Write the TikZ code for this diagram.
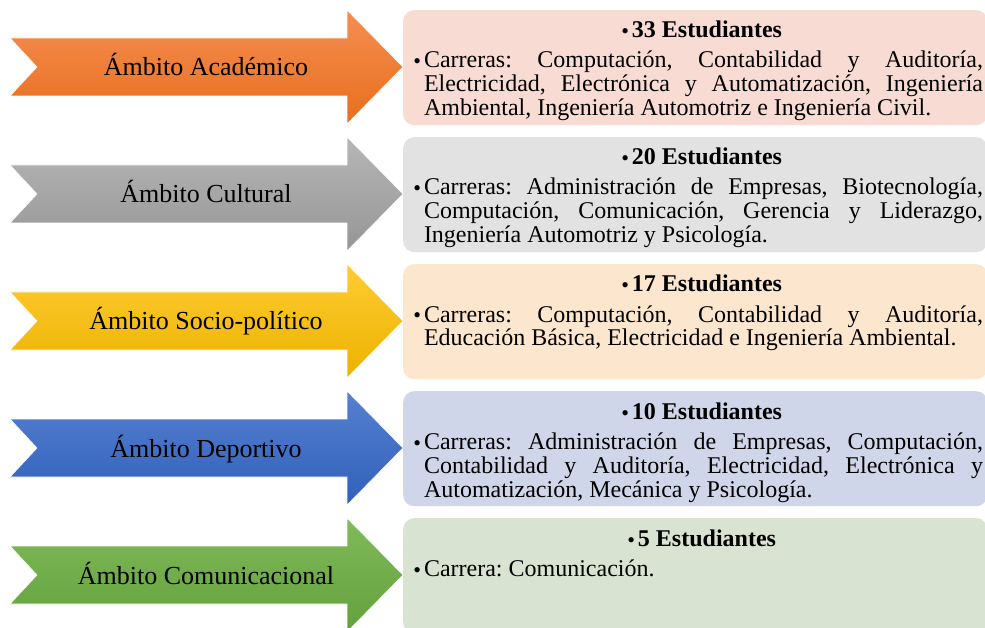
\documentclass[tikz,border=0pt]{standalone}
\usepackage{fontspec}
\setmainfont{Liberation Serif}
\frenchspacing
\definecolor{orT}{RGB}{245,142,82}
\definecolor{orB}{RGB}{232,110,28}
\definecolor{grT}{RGB}{182,182,182}
\definecolor{grB}{RGB}{150,150,150}
\definecolor{yeT}{RGB}{255,204,50}
\definecolor{yeB}{RGB}{236,178,0}
\definecolor{blT}{RGB}{86,128,208}
\definecolor{blB}{RGB}{48,96,186}
\definecolor{gnT}{RGB}{128,186,90}
\definecolor{gnB}{RGB}{100,160,60}
\definecolor{orL}{RGB}{248,220,212}
\definecolor{grL}{RGB}{226,226,226}
\definecolor{yeL}{RGB}{253,230,206}
\definecolor{blL}{RGB}{208,214,234}
\definecolor{gnL}{RGB}{216,227,209}
\newcommand\ambfont{\fontsize{26}{26}\selectfont}
\newcommand\bodyfont{\fontsize{24}{24}\selectfont\frenchspacing}
\newcommand\headfont{\fontsize{24}{24}\selectfont\bfseries}
\newcommand\bulfont{\fontsize{22}{22}\selectfont}
\tikzset{
  arrowshape/.style={draw=white, line width=0.6pt},
  infobox/.style={rounded corners=11pt, draw=none, minimum width=584pt, minimum height=115pt, anchor=north west, inner sep=0pt},
  txt/.style={inner sep=0pt, outer sep=0pt},
  bullet/.style={inner sep=0pt, outer sep=0pt, font=\bulfont, anchor=base east}
}
\newcommand\ambrow[8]{%
  \path[arrowshape, top color=#3, bottom color=#4]
    (10,#2-29) -- (347,#2-29) -- (347,#2-57) -- (403,#2) -- (347,#2+57)
    -- (347,#2+29) -- (10,#2+29) -- (37,#2) -- cycle;
  \node[txt, anchor=base, font=\ambfont] (a#1) at (206,#2+9) {#6};
  \node[infobox, fill=#5] (b#1) at (403,#2-57) {};
  \node[txt, anchor=base, font=\headfont] (h#1) at (707,#2-29) {#7};
  \node[bullet] (hb#1) at ([xshift=-3pt,yshift=-1pt]h#1.base west) {\textbullet};
  \node[txt, anchor=base west, text width=559pt, align=justify, font=\bodyfont] (t#1) at (424,#2+1) {#8};
  \node[bullet] (tb#1) at ([xshift=-3pt,yshift=-1pt]t#1.base west) {\textbullet};
}
\begin{document}
\begin{tikzpicture}[x=1pt,y=-1pt]
\useasboundingbox (0,0) rectangle (985,628);
\clip (0,0) rectangle (985,628);
\fill[white] (0,0) rectangle (985,628);
\ambrow{1}{67}{orT}{orB}{orL}{Ámbito Académico}{33 Estudiantes}%
  {Carreras: Computación, Contabilidad y Auditoría,\linebreak Electricidad, Electrónica y Automatización, Ingeniería\linebreak Ambiental, Ingeniería Automotriz e Ingeniería Civil.}
\ambrow{2}{194}{grT}{grB}{grL}{Ámbito Cultural}{20 Estudiantes}%
  {Carreras: Administración de Empresas, Biotecnología,\linebreak Computación, Comunicación, Gerencia y Liderazgo,\linebreak Ingeniería Automotriz y Psicología.}
\ambrow{3}{321}{yeT}{yeB}{yeL}{Ámbito Socio-político}{17 Estudiantes}%
  {Carreras: Computación, Contabilidad y Auditoría,\linebreak Educación Básica, Electricidad e Ingeniería Ambiental.}
\ambrow{4}{448}{blT}{blB}{blL}{Ámbito Deportivo}{10 Estudiantes}%
  {Carreras: Administración de Empresas, Computación,\linebreak Contabilidad y Auditoría, Electricidad, Electrónica y\linebreak Automatización, Mecánica y Psicología.}
\ambrow{5}{575}{gnT}{gnB}{gnL}{Ámbito Comunicacional}{5 Estudiantes}%
  {Carrera: Comunicación.}
\end{tikzpicture}
\end{document}
